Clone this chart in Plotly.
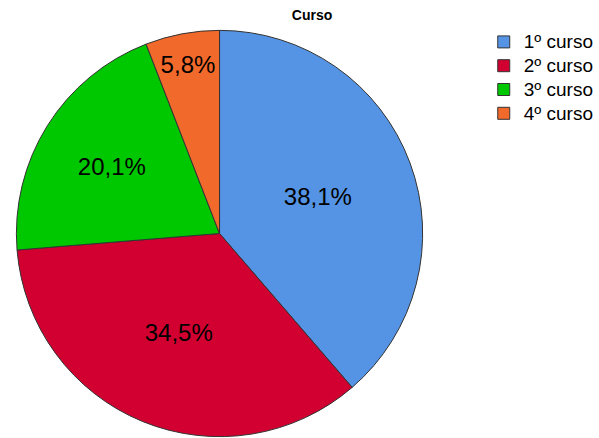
import plotly.graph_objects as go

categories = ["1º curso", "2º curso", "3º curso", "4º curso"]
percentages = [38.1, 34.5, 20.1, 5.8]
colors = ["#5594E4", "#D20030", "#00C800", "#F26A2B"]

W, H = 599, 438
mt = 29
plot_h = H - mt
cx, r = 221, plot_h / 2

legend_labels = ["<span style='font-size:19px'>%s</span>" % c for c in categories]

fig = go.Figure(
    go.Pie(
        labels=legend_labels,
        values=percentages,
        sort=False,
        direction="clockwise",
        rotation=0,
        marker=dict(colors=colors, line=dict(color="#333333", width=1)),
        texttemplate="%{value:.1f}%",
        textposition="inside",
        insidetextorientation="horizontal",
        textfont=dict(family="Liberation Sans, Arial, sans-serif", size=24, color="#000000"),
        customdata=categories,
        hovertemplate="%{customdata}: %{value:.1f}%<extra></extra>",
        domain=dict(x=[(cx - r) / W, (cx + r) / W], y=[0, 1]),
    )
)

fig.update_layout(
    width=W,
    height=H,
    margin=dict(l=0, r=0, t=mt, b=0),
    paper_bgcolor="white",
    plot_bgcolor="white",
    separators=",.",
    font=dict(family="Liberation Sans, Arial, sans-serif", color="#000000"),
    title=dict(
        text="<b>Curso</b>",
        font=dict(size=14, family="Liberation Sans, Arial, sans-serif", color="#000000"),
        x=312 / W,
        xanchor="center",
        xref="container",
        y=1 - 15 / H,
        yanchor="middle",
        yref="container",
    ),
    legend=dict(
        x=487 / W,
        xanchor="left",
        y=1 + 4 / plot_h,
        yanchor="top",
        font=dict(size=16, family="Liberation Sans, Arial, sans-serif", color="#000000"),
        tracegroupgap=0,
        bgcolor="rgba(0,0,0,0)",
    ),
    showlegend=True,
)

fig.write_html("out.html")
